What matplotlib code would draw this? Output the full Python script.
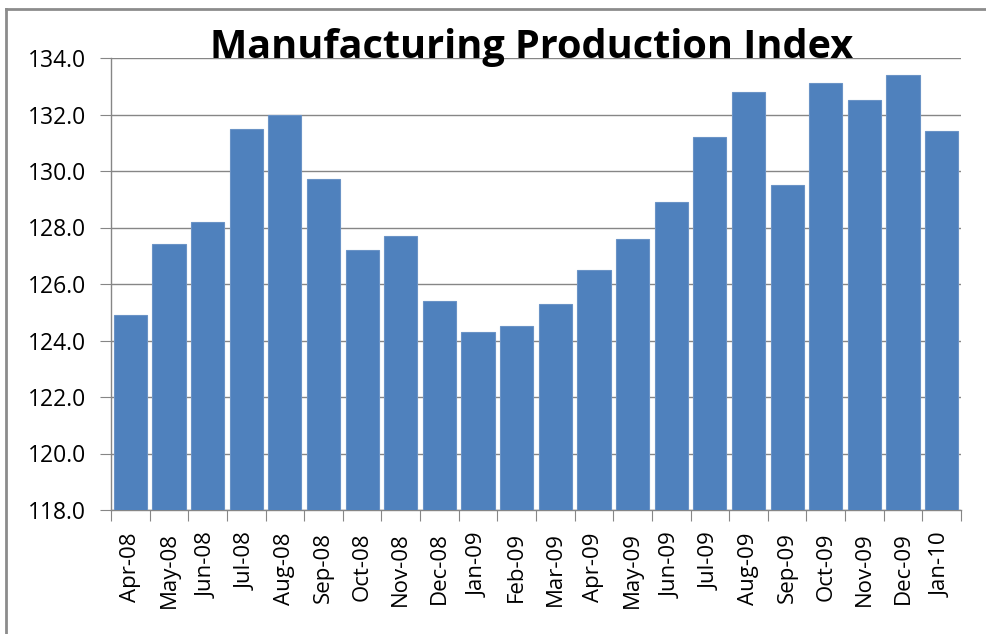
import matplotlib
matplotlib.use("Agg")
import matplotlib.pyplot as plt
from matplotlib.lines import Line2D

months = ["Apr-08", "May-08", "Jun-08", "Jul-08", "Aug-08", "Sep-08", "Oct-08",
          "Nov-08", "Dec-08", "Jan-09", "Feb-09", "Mar-09", "Apr-09", "May-09",
          "Jun-09", "Jul-09", "Aug-09", "Sep-09", "Oct-09", "Nov-09", "Dec-09",
          "Jan-10"]
values = [124.9, 127.4, 128.2, 131.5, 132.0, 129.7, 127.2, 127.7, 125.4, 124.3,
          124.5, 125.3, 126.5, 127.6, 128.9, 131.2, 132.8, 129.5, 133.1, 132.5,
          133.4, 131.4]
yticks = [118, 120, 122, 124, 126, 128, 130, 132, 134]
title = "Manufacturing Production Index"

plt.rcParams['font.family'] = ['Open Sans', 'DejaVu Sans']

fig = plt.figure(figsize=(9.87, 6.34), dpi=100)
ax = fig.add_axes([111/987, 1-510/634, (961-111)/987, (510-58)/634])

x = list(range(len(months)))
ax.bar(x, values, width=0.86, bottom=0, color="#4F81BD", edgecolor="#6A93C6",
       linewidth=0.8, zorder=3)
ax.set_xlim(-0.5, len(months)-0.5)
ax.set_ylim(118, 134)
ax.set_yticks(yticks)
ax.set_yticklabels([f"{v:.1f}" for v in yticks], fontsize=16.5)
ax.set_xticks([i - 0.5 for i in range(len(months)+1)], minor=False)
ax.set_xticklabels([])
ax.set_xticks(x, minor=True)
ax.set_xticklabels(months, minor=True, rotation=90, fontsize=16)
ax.tick_params(axis='x', which='major', length=8, color="#868686", direction='out')
ax.tick_params(axis='x', which='minor', length=0, pad=16)
ax.tick_params(axis='y', length=8, color="#868686", direction='out', pad=10)

ax.grid(axis='y', color="#868686", linewidth=1, zorder=0)
ax.set_axisbelow(True)
for s in ['top', 'right']:
    ax.spines[s].set_visible(False)
for s in ['left', 'bottom']:
    ax.spines[s].set_color("#868686")
    ax.spines[s].set_linewidth(1)

fig.text(531.5/987, 1-58/634, title, ha='center', va='baseline',
         fontsize=28.5, fontweight='bold', family=['Open Sans', 'DejaVu Sans'])

# outer frame
fig.add_artist(Line2D([6/987, 6/987], [0, 1-9/634], transform=fig.transFigure,
                      color="#8C8C8C", linewidth=2))
fig.add_artist(Line2D([6/987, 1], [1-9/634, 1-9/634], transform=fig.transFigure,
                      color="#8C8C8C", linewidth=2))

fig.savefig("out.png", dpi=100)
